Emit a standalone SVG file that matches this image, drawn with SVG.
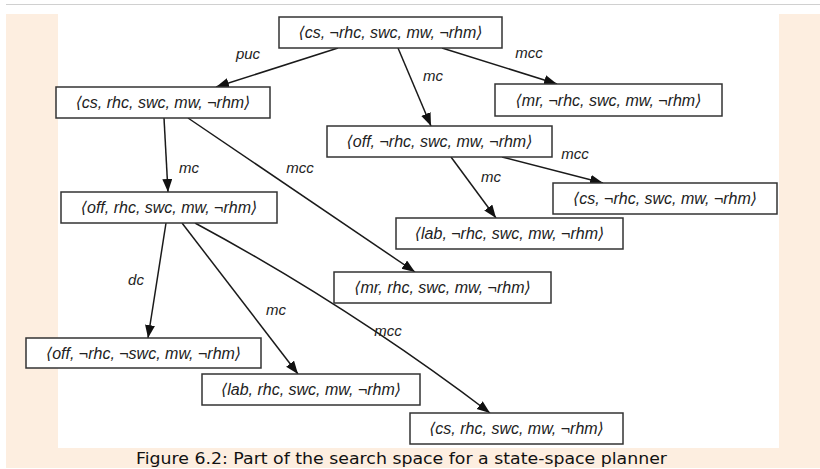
<svg xmlns="http://www.w3.org/2000/svg" width="820" height="469" viewBox="0 0 820 469">
<defs>
<marker id="ah" markerUnits="userSpaceOnUse" markerWidth="14" markerHeight="11" refX="13" refY="5" orient="auto">
<path d="M0,0 L13,5 L0,10 z" fill="#111"/>
</marker>
<style>
.box{fill:#fff;stroke:#333;stroke-width:1.5}
.nt{font-family:"Liberation Sans","DejaVu Sans",sans-serif;font-style:italic;font-size:16px;fill:#222;text-anchor:middle}
.lb{font-family:"Liberation Sans",sans-serif;font-style:italic;font-size:15px;fill:#222;text-anchor:middle}
.ed{fill:none;stroke:#1a1a1a;stroke-width:1.5;marker-end:url(#ah)}
</style>
</defs>
<line x1="6" y1="4.5" x2="820" y2="4.5" stroke="#d0d0d0" stroke-width="1.2"/>
<rect x="6" y="14" width="814" height="454" fill="#fdeee0"/>
<rect x="58" y="14" width="721" height="434" fill="#ffffff"/>
<g id="connectors">
<path class="ed" d="M338,48 L216,87"/>
<path class="ed" d="M398,48 L431,126"/>
<path class="ed" d="M442,48 L557,84"/>
<path class="ed" d="M164,118 L168,192"/>
<path class="ed" d="M188,118 L415,272"/>
<path class="ed" d="M451,157 L496,218"/>
<path class="ed" d="M502,157 L603,183"/>
<path class="ed" d="M166,223 L148,338"/>
<path class="ed" d="M182,223 L298,374"/>
<path class="ed" d="M195,223 Q349,306 490,413"/>
<text class="lb" x="248" y="59">puc</text>
<text class="lb" x="433" y="81">mc</text>
<text class="lb" x="529" y="58">mcc</text>
<text class="lb" x="189" y="173">mc</text>
<text class="lb" x="300" y="173">mcc</text>
<text class="lb" x="575" y="159">mcc</text>
<text class="lb" x="491" y="182">mc</text>
<text class="lb" x="136" y="285">dc</text>
<text class="lb" x="276" y="315">mc</text>
<text class="lb" x="388" y="336">mcc</text>
</g>
<g id="n1"><rect class="box" x="279" y="17" width="223" height="31"/><text class="nt" x="390.5" y="38">⟨cs, ¬rhc, swc, mw, ¬rhm⟩</text></g>
<g id="n2"><rect class="box" x="56" y="87" width="214" height="31"/><text class="nt" x="163" y="108">⟨cs, rhc, swc, mw, ¬rhm⟩</text></g>
<g id="n3"><rect class="box" x="495" y="84" width="227" height="32"/><text class="nt" x="608.5" y="105.5">⟨mr, ¬rhc, swc, mw, ¬rhm⟩</text></g>
<g id="n4"><rect class="box" x="327" y="126" width="225" height="31"/><text class="nt" x="439.5" y="147">⟨off, ¬rhc, swc, mw, ¬rhm⟩</text></g>
<g id="n5"><rect class="box" x="553" y="183" width="224" height="31"/><text class="nt" x="665" y="204">⟨cs, ¬rhc, swc, mw, ¬rhm⟩</text></g>
<g id="n6"><rect class="box" x="61" y="192" width="216" height="31"/><text class="nt" x="169" y="213">⟨off, rhc, swc, mw, ¬rhm⟩</text></g>
<g id="n7"><rect class="box" x="396" y="218" width="227" height="31"/><text class="nt" x="509.5" y="239">⟨lab, ¬rhc, swc, mw, ¬rhm⟩</text></g>
<g id="n8"><rect class="box" x="334" y="272" width="217" height="31"/><text class="nt" x="442.5" y="293">⟨mr, rhc, swc, mw, ¬rhm⟩</text></g>
<g id="n9"><rect class="box" x="26" y="338" width="235" height="30"/><text class="nt" x="143.5" y="358.5">⟨off, ¬rhc, ¬swc, mw, ¬rhm⟩</text></g>
<g id="n10"><rect class="box" x="202" y="374" width="218" height="31"/><text class="nt" x="311" y="395">⟨lab, rhc, swc, mw, ¬rhm⟩</text></g>
<g id="n11"><rect class="box" x="410" y="413" width="213" height="31"/><text class="nt" x="516.5" y="434">⟨cs, rhc, swc, mw, ¬rhm⟩</text></g>
<text x="136" y="464" font-family="DejaVu Sans, sans-serif" font-size="16.5" fill="#111" textLength="531" lengthAdjust="spacingAndGlyphs">Figure 6.2: Part of the search space for a state-space planner</text>
</svg>
